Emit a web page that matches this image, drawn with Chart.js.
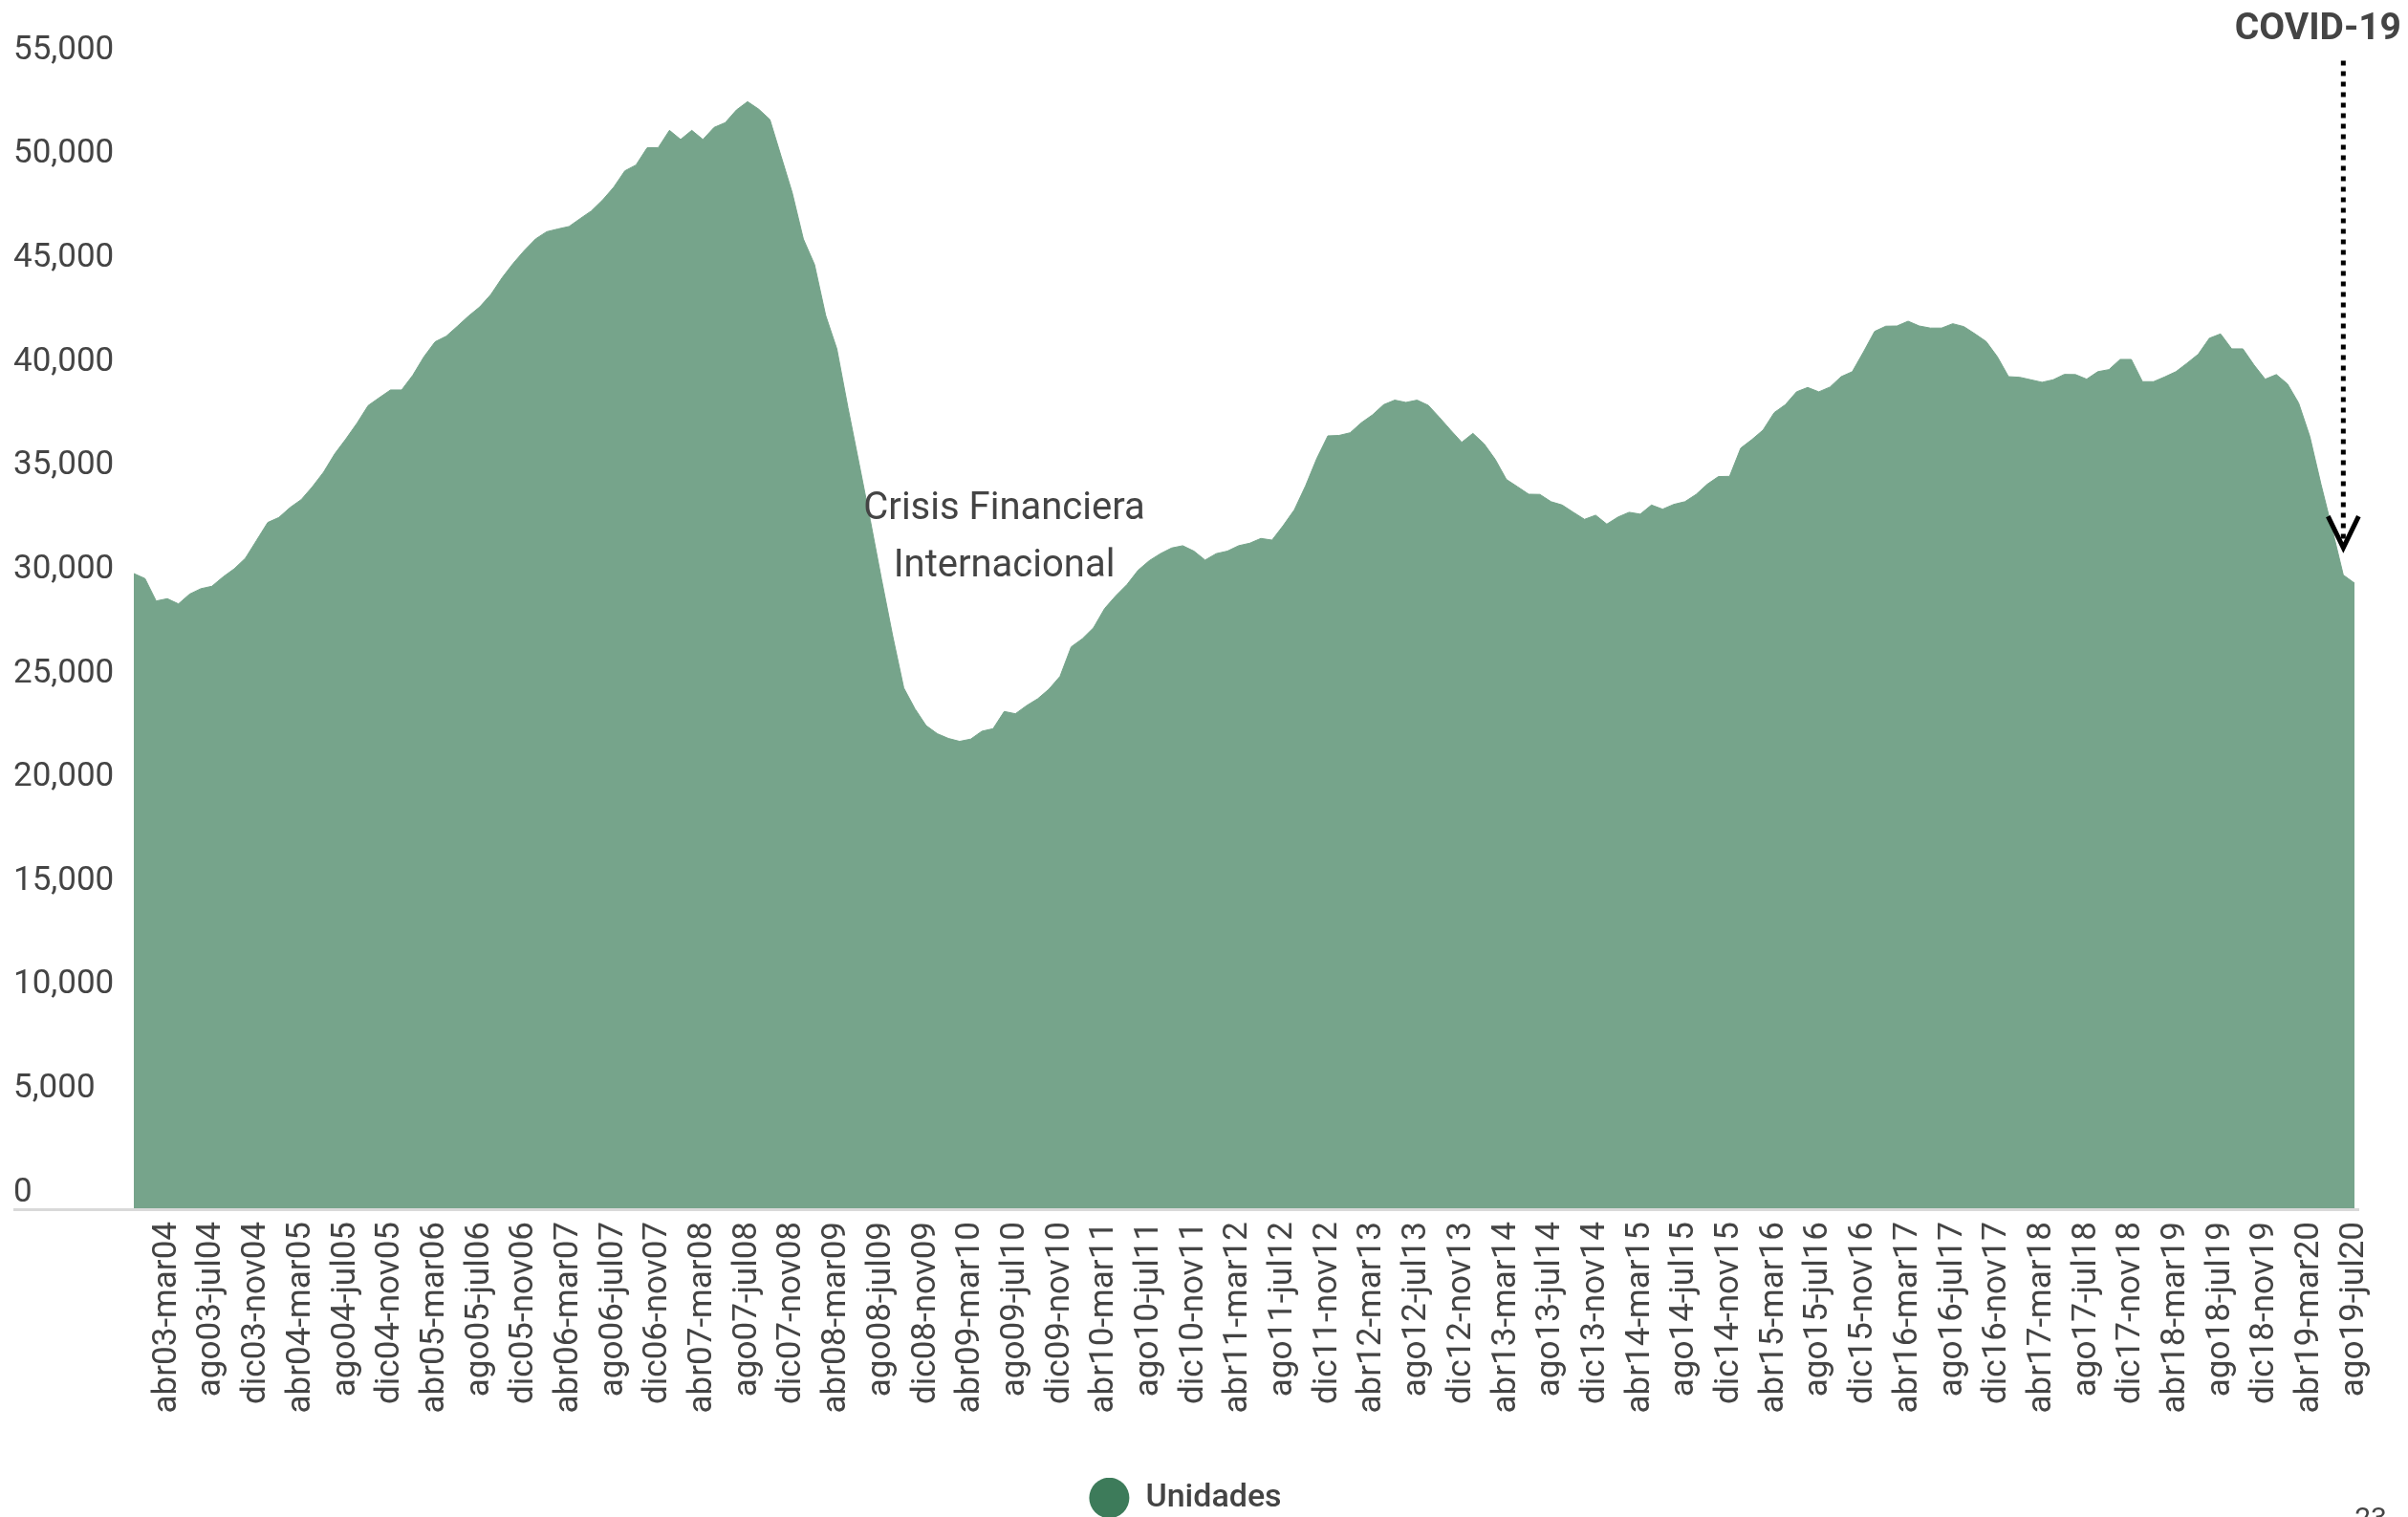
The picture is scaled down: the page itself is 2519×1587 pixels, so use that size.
<!DOCTYPE html>
<html lang="es">
<head>
<meta charset="utf-8">
<title>Unidades</title>
<script src="https://cdn.jsdelivr.net/npm/chart.js@4.4.1/dist/chart.umd.min.js"></script>
<style>
  html, body { margin:0; padding:0; background:#fff; }
  #wrap { width:2519px; height:1587px; position:relative; }
</style>
</head>
<body>
<div id="wrap"><canvas id="chart"></canvas></div>
<script>
const meses = ['ene','feb','mar','abr','may','jun','jul','ago','sep','oct','nov','dic'];
const pad = n => String(n).padStart(2, '0');

// periodos moviles de 12 meses: ene03-dic03 ... ago19-jul20
const periodos = [];
for (let i = 0; i < 200; i++) {
  const m = i % 12, y = 3 + Math.floor(i / 12);
  const em = (m + 11) % 12, ey = m === 0 ? y : y + 1;
  periodos.push(meses[m] + pad(y) + '-' + meses[em] + pad(ey));
}

const unidades = [
  30560, 30320, 29240, 29350, 29100, 29570, 29830, 29950, 30400, 30790,
  31300, 32160, 33020, 33260, 33740, 34120, 34740, 35440, 36320, 37040,
  37800, 38650, 39030, 39400, 39400, 40110, 41000, 41720, 41990, 42470,
  42960, 43400, 44000, 44800, 45500, 46120, 46670, 47020, 47150, 47270,
  47650, 48020, 48540, 49160, 49950, 50230, 51060, 51070, 51900, 51460,
  51900, 51460, 52040, 52270, 52880, 53280, 52920, 52420, 50660, 48900,
  46670, 45440, 42990, 41380, 38540, 35840, 33120, 30300, 27570, 25050,
  24050, 23240, 22850, 22620, 22480, 22590, 22970, 23090, 23920, 23810,
  24200, 24530, 24990, 25610, 27030, 27420, 27950, 28880, 29490, 30030,
  30720, 31180, 31520, 31790, 31900, 31640, 31210, 31520, 31640, 31900,
  32020, 32250, 32170, 32870, 33630, 34780, 36090, 37190, 37210, 37340,
  37820, 38200, 38690, 38910, 38800, 38910, 38660, 38080, 37470, 36880,
  37310, 36810, 36060, 35090, 34740, 34380, 34370, 34020, 33860, 33510,
  33170, 33370, 32940, 33280, 33510, 33420, 33860, 33660, 33890, 34020,
  34370, 34860, 35230, 35240, 36600, 37010, 37470, 38310, 38690, 39310,
  39520, 39310, 39540, 40040, 40280, 41230, 42220, 42470, 42480, 42710,
  42480, 42380, 42380, 42590, 42450, 42100, 41730, 41000, 40040, 40010,
  39890, 39770, 39890, 40150, 40140, 39920, 40280, 40380, 40870, 40870,
  39800, 39800, 40030, 40280, 40690, 41120, 41890, 42100, 41380, 41380,
  40600, 39920, 40140, 39690, 38770, 37160, 34860, 32710, 30490, 30100
];

const gris = '#444';

// anotaciones: crisis, covid, linea base y numero de pagina
const notas = {
  id: 'notas',
  afterDatasetsDraw(chart) {
    const { ctx, chartArea, scales: { x, y } } = chart;
    ctx.save();

    ctx.strokeStyle = '#d9d9d9';
    ctx.lineWidth = 3;
    ctx.beginPath();
    ctx.moveTo(14, chartArea.bottom + 1.5);
    ctx.lineTo(chartArea.right + 5, chartArea.bottom + 1.5);
    ctx.stroke();

    ctx.fillStyle = gris;
    ctx.font = '40px Roboto';
    ctx.textAlign = 'center';
    ctx.textBaseline = 'middle';
    const cx = x.getPixelForValue(78);
    ctx.fillText('Crisis Financiera', cx, y.getPixelForValue(33650));
    ctx.fillText('Internacional', cx, y.getPixelForValue(30900));

    ctx.font = 'bold 39px Roboto';
    ctx.textAlign = 'right';
    ctx.fillText('COVID-19', chart.width - 7, 31);

    const vx = x.getPixelForValue(198);
    ctx.strokeStyle = '#000';
    ctx.lineWidth = 5;
    ctx.setLineDash([5, 6]);
    ctx.beginPath();
    ctx.moveTo(vx, y.getPixelForValue(55250));
    ctx.lineTo(vx, y.getPixelForValue(32200));
    ctx.stroke();
    ctx.setLineDash([]);
    const yTop = y.getPixelForValue(33320), yTip = y.getPixelForValue(31800);
    ctx.beginPath();
    ctx.moveTo(vx - 16, yTop);
    ctx.lineTo(vx, yTip);
    ctx.lineTo(vx + 16, yTop);
    ctx.stroke();

    ctx.font = '30px Roboto';
    ctx.textAlign = 'center';
    ctx.textBaseline = 'top';
    ctx.fillText('23', 2480, 1575);
    ctx.restore();
  }
};

new Chart(document.getElementById('chart'), {
  type: 'line',
  data: {
    labels: periodos,
    datasets: [{
      label: 'Unidades',
      data: unidades,
      fill: 'origin',
      backgroundColor: '#76a48b',
      borderColor: '#76a48b',
      borderWidth: 1,
      pointRadius: 0,
      tension: 0
    }]
  },
  options: {
    responsive: true,
    maintainAspectRatio: false,
    devicePixelRatio: 1,
    animation: false,
    layout: { padding: { left: 14, right: 53, top: 69, bottom: -7 } },
    plugins: {
      tooltip: { enabled: false },
      legend: {
        position: 'bottom',
        labels: {
          usePointStyle: true,
          pointStyle: 'circle',
          boxHeight: 30,
          pointStyleWidth: 42,
          padding: 4,
          color: gris,
          font: { family: 'Roboto', size: 34, weight: '500' },
          generateLabels: (chart) => {
            const items = Chart.defaults.plugins.legend.labels.generateLabels(chart);
            items.forEach(it => { it.fillStyle = '#3d7b5a'; it.strokeStyle = '#3d7b5a'; it.lineWidth = 0; });
            return items;
          }
        }
      }
    },
    scales: {
      x: {
        grid: { display: false, drawTicks: false },
        border: { display: false },
        ticks: {
          autoSkip: false, minRotation: 90, maxRotation: 90, padding: 14,
          color: gris, font: { family: 'Roboto', size: 35 },
          callback: (v, i) => i % 4 === 3 ? periodos[i] : ''
        },
        afterFit: s => { s.height = 282; }
      },
      y: {
        min: 0, max: 55000,
        grid: { display: false },
        border: { display: false },
        ticks: {
          stepSize: 5000, color: gris, font: { family: 'Roboto', size: 35 },
          crossAlign: 'far', labelOffset: -16, padding: 0,
          callback: v => v.toLocaleString('en-US')
        },
        afterFit: s => { s.width = 126; }
      }
    }
  },
  plugins: [notas]
});
</script>
</body>
</html>
